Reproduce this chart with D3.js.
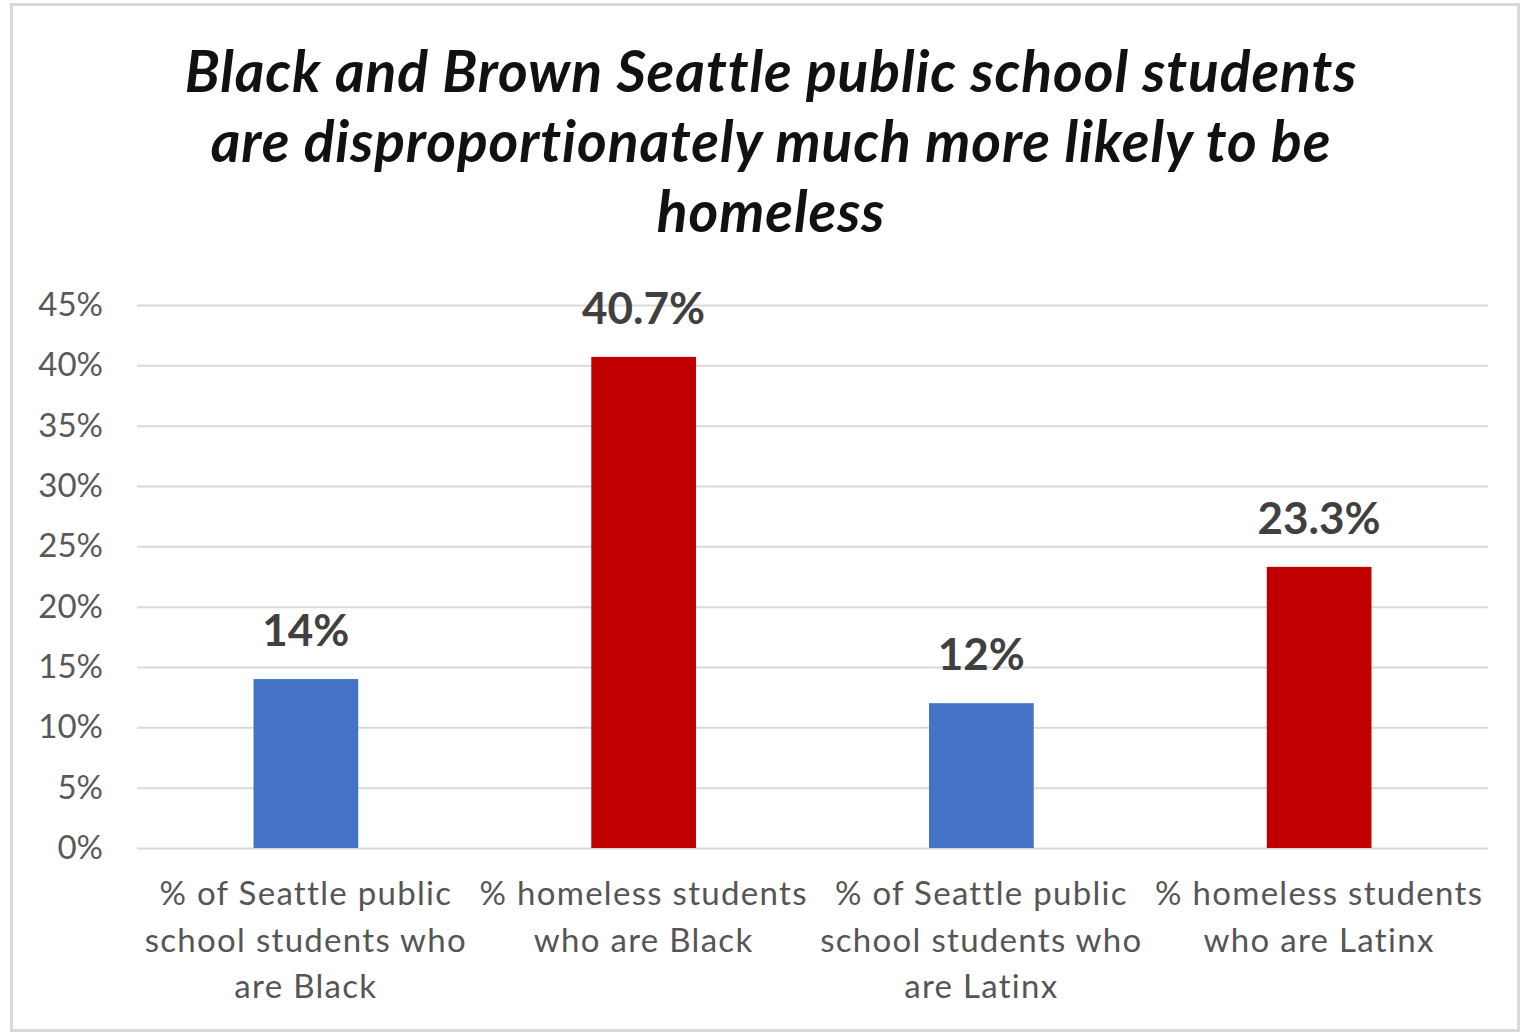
<!DOCTYPE html>
<html>
<head>
<meta charset="utf-8">
<script src="https://cdn.jsdelivr.net/npm/d3@7"></script>
<style>
  html, body { margin: 0; padding: 0; background: #ffffff; }
  svg { display: block; }
</style>
</head>
<body>
<svg id="chart" width="1527" height="1035"></svg>
<script>
// ---- data ----
const titleLines = [
  "Black and Brown Seattle public school students",
  "are disproportionately much more likely to be",
  "homeless"
];
const categories = [
  ["% of Seattle public", "school students who", "are Black"],
  ["% homeless students", "who are Black"],
  ["% of Seattle public", "school students who", "are Latinx"],
  ["% homeless students", "who are Latinx"]
];
const values = [14, 40.7, 12, 23.3];
const valueLabels = ["14%", "40.7%", "12%", "23.3%"];
const barColors = ["#4472C4", "#C00000", "#4472C4", "#C00000"];
const yTicks = [0, 5, 10, 15, 20, 25, 30, 35, 40, 45];

// ---- layout ----
const plot = { left: 137, right: 1488, top: 305, bottom: 848 };
const font = "Lato, 'Open Sans', 'DejaVu Sans', sans-serif";

const svg = d3.select("#chart");

// outer frame
svg.append("rect")
  .attr("x", 11.5).attr("y", 4.5)
  .attr("width", 1507).attr("height", 1026)
  .attr("fill", "#ffffff")
  .attr("stroke", "#d9d9d9").attr("stroke-width", 3);

// title
svg.append("g").selectAll("text")
  .data(titleLines).join("text")
  .attr("x", 771)
  .attr("y", (d, i) => 92 + i * 70)
  .attr("text-anchor", "middle")
  .attr("font-family", font)
  .attr("font-weight", 700)
  .attr("font-style", "italic")
  .attr("font-size", 57)
  .attr("letter-spacing", 0.9)
  .attr("fill", "#111111")
  .text(d => d);

const idx = categories.map((d, i) => i);
const x = d3.scaleBand().domain(idx).range([plot.left, plot.right]).paddingInner(0.69).paddingOuter(0.345);
const y = d3.scaleLinear().domain([0, 45]).range([plot.bottom, plot.top]);

// gridlines + y labels via axis
const yAxis = d3.axisLeft(y).tickValues(yTicks).tickFormat(d => d + "%").tickSize(-(plot.right - plot.left)).tickPadding(34);
const gy = svg.append("g").attr("transform", `translate(${plot.left},0)`).call(yAxis);
gy.select(".domain").remove();
gy.selectAll(".tick line").attr("stroke", "#d9d9d9").attr("stroke-width", 2);
gy.selectAll(".tick text")
  .attr("font-family", font).attr("font-size", 33).attr("fill", "#595959");

// bars
svg.append("g").selectAll("rect")
  .data(values).join("rect")
  .attr("x", (d, i) => x(i))
  .attr("width", x.bandwidth())
  .attr("y", d => y(d))
  .attr("height", d => y(0) - y(d))
  .attr("fill", (d, i) => barColors[i]);

// value labels
svg.append("g").selectAll("text")
  .data(values).join("text")
  .attr("x", (d, i) => x(i) + x.bandwidth() / 2)
  .attr("y", d => y(d) - 33)
  .attr("text-anchor", "middle")
  .attr("font-family", font)
  .attr("font-weight", 700)
  .attr("font-size", 44)
  .attr("fill", "#404040")
  .text((d, i) => valueLabels[i]);

// category labels
const gx = svg.append("g");
categories.forEach((lines, i) => {
  gx.append("text")
    .attr("x", x(i) + x.bandwidth() / 2)
    .attr("text-anchor", "middle")
    .attr("font-family", font)
    .attr("font-size", 33)
    .attr("letter-spacing", 1.3)
    .attr("fill", "#555555")
    .selectAll("tspan").data(lines).join("tspan")
    .attr("x", x(i) + x.bandwidth() / 2)
    .attr("y", (d, j) => 905 + j * 46.5)
    .text(d => d);
});
</script>
</body>
</html>
